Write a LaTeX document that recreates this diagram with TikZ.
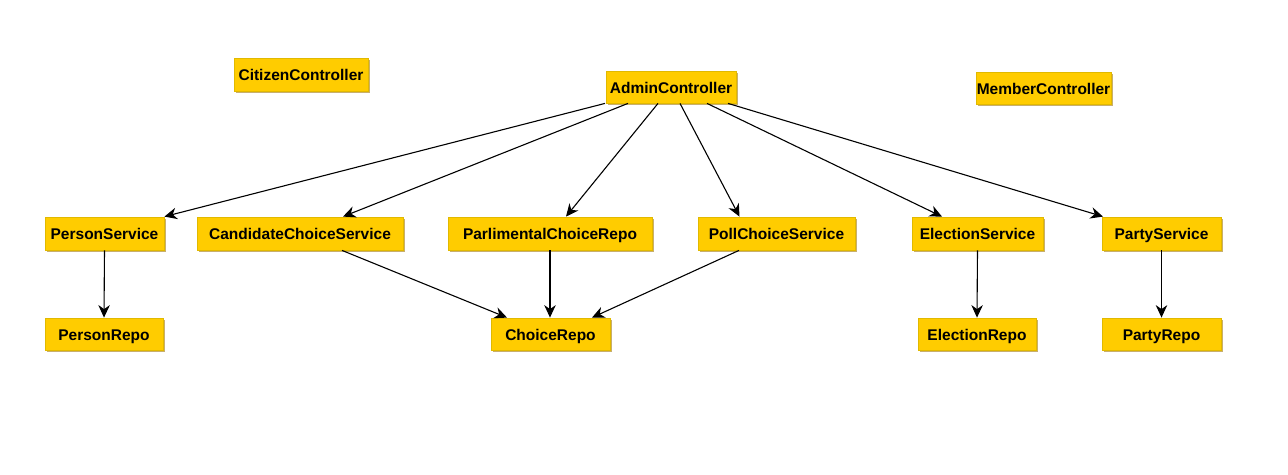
\documentclass[tikz,border=0pt]{standalone}
\usepackage{fontspec}
\setmainfont{Liberation Sans}
\usetikzlibrary{arrows.meta,shadows}
\definecolor{boxfill}{RGB}{255,204,0}
\definecolor{boxline}{RGB}{225,185,0}
\definecolor{boxshadow}{RGB}{200,175,110}
\tikzset{
  box/.style={rectangle, fill=boxfill, draw=boxline, line width=0.8pt,
    minimum height=33pt, inner sep=0pt, text height=14pt, text depth=2pt,
    font=\fontsize{15.5}{18}\selectfont\bfseries,
    drop shadow={shadow xshift=1.5pt, shadow yshift=-1.5pt, fill=boxshadow, opacity=1}},
  arr/.style={-{Stealth[length=12.5pt,width=11.5pt,inset=4pt]}, line width=1.1pt, black}
}
\begin{document}
\begin{tikzpicture}[x=1pt,y=-1pt]
\useasboundingbox (0,0) rectangle (1288,474);
\node[box, minimum width=134pt] (citizen) at (301,74.5) {CitizenController};
\node[box, minimum width=130pt, minimum height=32pt] (admin) at (671,87) {AdminController};
\node[box, minimum width=135pt, minimum height=32pt] (member) at (1043.5,88) {MemberController};
\node[box, minimum width=119pt] (personS) at (104.5,233.5) {PersonService};
\node[box, minimum width=206pt] (cand) at (300,233.5) {CandidateChoiceService};
\node[box, minimum width=204pt] (parl) at (550,233.5) {ParlimentalChoiceRepo};
\node[box, minimum width=157pt] (poll) at (776.5,233.5) {PollChoiceService};
\node[box, minimum width=131pt] (elecS) at (977.5,233.5) {ElectionService};
\node[box, minimum width=119pt] (partyS) at (1161.5,233.5) {PartyService};
\node[box, minimum width=118pt, minimum height=32pt] (personR) at (104,334) {PersonRepo};
\node[box, minimum width=119pt, minimum height=32pt] (choice) at (550.5,334) {ChoiceRepo};
\node[box, minimum width=118pt, minimum height=32pt] (elecR) at (977,334) {ElectionRepo};
\node[box, minimum width=119pt, minimum height=32pt] (partyR) at (1161.5,334) {PartyRepo};
\draw[arr] ([xshift=-66pt]admin.south) -- (personS.north east);
\draw[arr] ([xshift=-43pt]admin.south) -- ([xshift=43pt]cand.north);
\draw[arr] ([xshift=-13pt]admin.south) -- ([xshift=16pt]parl.north);
\draw[arr] ([xshift=9pt]admin.south) -- ([xshift=-37pt]poll.north);
\draw[arr] ([xshift=36pt]admin.south) -- ([xshift=-35.5pt]elecS.north);
\draw[arr] ([xshift=57pt]admin.south) -- ([xshift=-58.5pt]partyS.north);
\draw[arr] ([xshift=42pt]cand.south) -- ([xshift=-43.5pt]choice.north);
\draw[arr] (parl.south) -- ([xshift=-0.5pt]choice.north);
\draw[arr] ([xshift=-37.5pt]poll.south) -- ([xshift=41.5pt]choice.north);
\draw[arr] (personS.south) -- (personR.north);
\draw[arr] (elecS.south) -- (elecR.north);
\draw[arr] (partyS.south) -- (partyR.north);
\end{tikzpicture}
\end{document}
